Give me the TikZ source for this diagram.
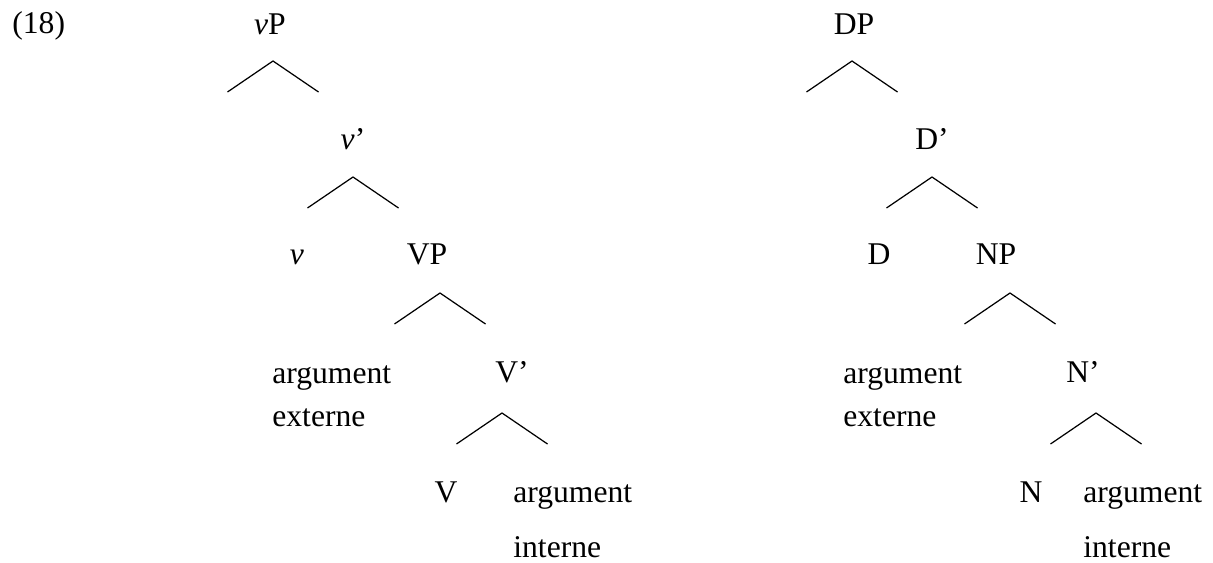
\documentclass[tikz,border=0pt]{standalone}
\usepackage{fontspec}
\setmainfont{Liberation Serif}

\begin{document}
\begin{tikzpicture}[
  x=0.02cm, y=-0.02cm,
  font=\fontsize{18}{24.9}\selectfont,
  cat/.style={inner sep=0pt, anchor=base},
  word/.style={inner sep=0pt, anchor=base west, align=left},
  branch/.style={line width=0.7pt}
]
\useasboundingbox (0,0) rectangle (1213,563);
\node[word] (exnum) at (12,34) {(18)};

% vP tree (two-line words sit on the baseline of their last line)
\node[cat] (vP) at (270,35) {\textit{v}P};
\node[cat] (vbar) at (353,150) {\textit{v}'};
\node[cat] (v) at (297,265) {\textit{v}};
\node[cat] (VP) at (427,265) {VP};
\node[word] (extV) at (272,427) {argument\\externe};
\node[cat] (Vbar) at (512,383) {V'};
\node[cat] (V) at (446,502) {V};
\node[word] (intV) at (513,557) {argument\\[6.3pt]interne};

% DP tree
\node[cat] (DP) at (854,35) {DP};
\node[cat] (Dbar) at (932,150) {D'};
\node[cat] (D) at (879,265) {D};
\node[cat] (NP) at (996,265) {NP};
\node[word] (extN) at (843,427) {argument\\externe};
\node[cat] (Nbar) at (1083,383) {N'};
\node[cat] (N) at (1031,502) {N};
\node[word] (intN) at (1083,557) {argument\\[6.3pt]interne};

% branches under each category
\foreach \n/\x/\y in {vP/273/61, vbar/353/177, VP/440/293, Vbar/502/413,
                      DP/852/61, Dbar/932/177, NP/1010/293, Nbar/1096/413} {
  \coordinate (\n-top) at (\x,\y);
  \coordinate (\n-left) at (\x-45.5,\y+31);
  \coordinate (\n-right) at (\x+45.5,\y+31);
  \draw[branch] (\n-left) -- (\n-top) -- (\n-right);
}
\end{tikzpicture}
\end{document}
